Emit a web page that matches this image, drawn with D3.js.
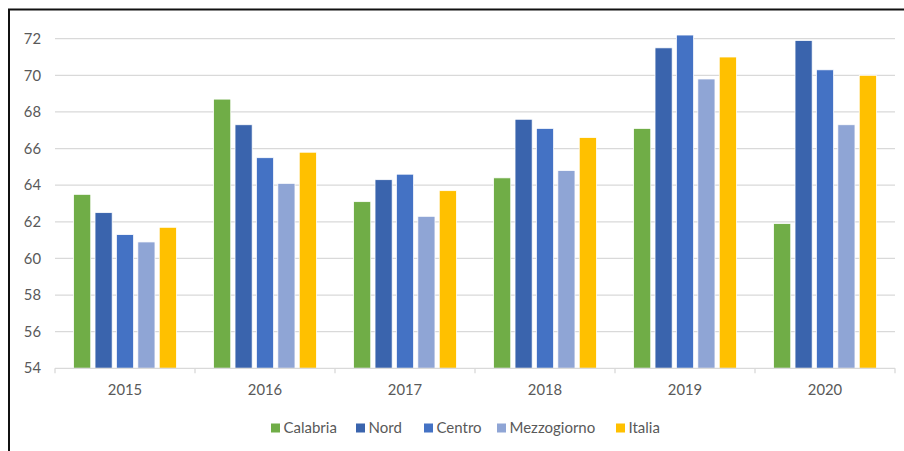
<!DOCTYPE html>
<html>
<head>
<meta charset="utf-8">
<script src="https://cdn.jsdelivr.net/npm/d3@7"></script>
<style>
  body { margin: 0; background: #fff; }
  svg { display: block; }
</style>
</head>
<body>
<svg id="chart" width="904" height="451"></svg>
<script>
// data
var years = ["2015", "2016", "2017", "2018", "2019", "2020"];
var series = ["Calabria", "Nord", "Centro", "Mezzogiorno", "Italia"];
var calabria    = [63.5, 68.7, 63.1, 64.4, 67.1, 61.9];
var nord        = [62.5, 67.3, 64.3, 67.6, 71.5, 71.9];
var centro      = [61.3, 65.5, 64.6, 67.1, 72.2, 70.3];
var mezzogiorno = [60.9, 64.1, 62.3, 64.8, 69.8, 67.3];
var italia      = [61.7, 65.8, 63.7, 66.6, 71.0, 70.0];
var yTicks = [54, 56, 58, 60, 62, 64, 66, 68, 70, 72];
var colors = ["#70ad47", "#3a64ad", "#4472c4", "#8fa5d5", "#ffc000"];

var values = [calabria, nord, centro, mezzogiorno, italia];

var svg = d3.select("#chart");
var font = "Lato, 'Open Sans', sans-serif";

// frame (top and left edge only, like the screenshot)
svg.append("line")
  .attr("x1", 8).attr("x2", 904).attr("y1", 9.5).attr("y2", 9.5)
  .attr("stroke", "#111").attr("stroke-width", 2);
svg.append("line")
  .attr("x1", 9).attr("x2", 9).attr("y1", 9).attr("y2", 451)
  .attr("stroke", "#111").attr("stroke-width", 2);

var x0 = d3.scaleBand()
  .domain(years)
  .range([55, 895]);

var x1 = d3.scaleBand()
  .domain(series)
  .range([0, x0.bandwidth()])
  .paddingInner(0.2)
  .paddingOuter(0.87);

var y = d3.scaleLinear()
  .domain([54, 72])
  .range([368.3, 38.7]);

// gridlines
svg.append("g")
  .selectAll("line")
  .data(yTicks.filter(d => d > 54))
  .enter().append("line")
    .attr("x1", 55).attr("x2", 895)
    .attr("y1", d => y(d)).attr("y2", d => y(d))
    .attr("stroke", "#d9d9d9").attr("stroke-width", 1.3);

// y labels
svg.append("g")
  .selectAll("text")
  .data(yTicks)
  .enter().append("text")
    .attr("x", 41)
    .attr("y", d => y(d))
    .attr("dy", "0.35em")
    .attr("text-anchor", "end")
    .attr("font-family", font)
    .attr("font-size", 14.8)
    .attr("fill", "#595959")
    .text(d => d);

// bars
svg.append("g")
  .selectAll("g")
  .data(values)
  .enter().append("g")
    .attr("fill", (d, i) => colors[i])
  .selectAll("rect")
  .data((d, i) => d.map((v, j) => ({v: v, year: years[j], s: series[i]})))
  .enter().append("rect")
    .attr("x", d => x0(d.year) + x1(d.s))
    .attr("y", d => y(d.v))
    .attr("width", x1.bandwidth())
    .attr("height", d => y(54) - y(d.v))
    .attr("stroke", "#fff")
    .attr("stroke-width", 0.75);

// x axis
var xAxis = d3.axisBottom(x0).tickSize(0).tickPadding(16);
var gx = svg.append("g")
  .attr("transform", "translate(0," + y(54) + ")")
  .call(xAxis);
gx.select(".domain").remove();
gx.selectAll("text")
  .attr("font-family", font)
  .attr("font-size", 14.8)
  .attr("fill", "#595959");

svg.append("line")
  .attr("x1", 55).attr("x2", 895)
  .attr("y1", y(54)).attr("y2", y(54))
  .attr("stroke", "#d9d9d9").attr("stroke-width", 1.3);
svg.append("g")
  .selectAll("line")
  .data(d3.range(years.length + 1))
  .enter().append("line")
    .attr("x1", i => 55 + i * x0.step()).attr("x2", i => 55 + i * x0.step())
    .attr("y1", y(54)).attr("y2", y(54) + 5)
    .attr("stroke", "#d9d9d9").attr("stroke-width", 1.3);

// legend
var legendX = [271, 356, 424, 497, 616];
var legend = svg.append("g")
  .selectAll("g")
  .data(series)
  .enter().append("g")
    .attr("transform", (d, i) => "translate(" + legendX[i] + ",428)");
legend.append("rect")
  .attr("x", 0).attr("y", -4.5)
  .attr("width", 9).attr("height", 9)
  .attr("fill", (d, i) => colors[i]);
legend.append("text")
  .attr("x", 12.5)
  .attr("dy", "0.35em")
  .attr("font-family", font)
  .attr("font-size", 15)
  .attr("fill", "#595959")
  .text(d => d);
</script>
</body>
</html>
